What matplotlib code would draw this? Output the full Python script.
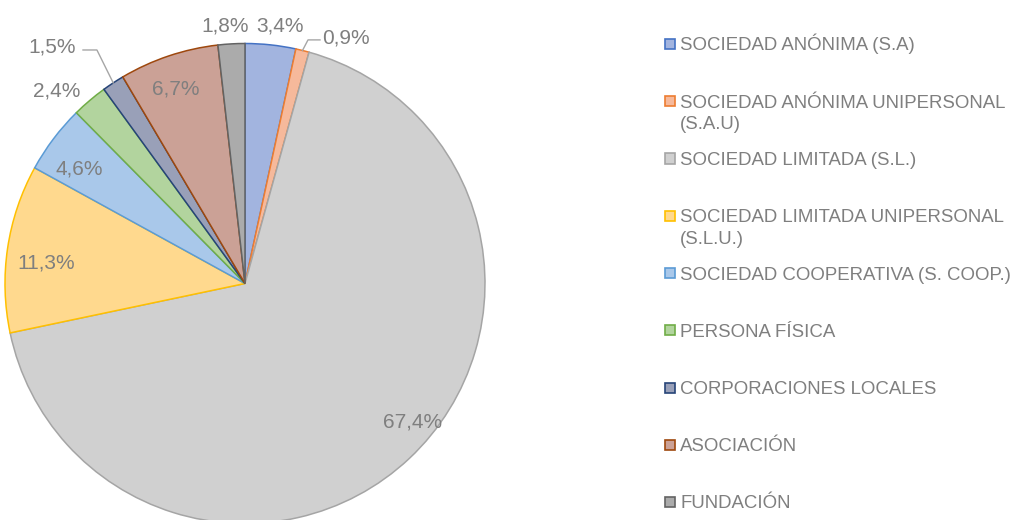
import numpy as np
import matplotlib
matplotlib.use("Agg")
import matplotlib.pyplot as plt
from matplotlib.patches import Rectangle

plt.rcParams["font.family"] = ["Liberation Sans", "DejaVu Sans"]

# data
categories = [
    "SOCIEDAD ANÓNIMA (S.A)",
    "SOCIEDAD ANÓNIMA UNIPERSONAL\n(S.A.U)",
    "SOCIEDAD LIMITADA (S.L.)",
    "SOCIEDAD LIMITADA UNIPERSONAL\n(S.L.U.)",
    "SOCIEDAD COOPERATIVA (S. COOP.)",
    "PERSONA FÍSICA",
    "CORPORACIONES LOCALES",
    "ASOCIACIÓN",
    "FUNDACIÓN",
]
shares = [3.4, 0.9, 67.4, 11.3, 4.6, 2.4, 1.5, 6.7, 1.8]
labels = ["3,4%", "0,9%", "67,4%", "11,3%", "4,6%", "2,4%", "1,5%", "6,7%", "1,8%"]

# style
fills = ["#A2B4DF", "#F6B99B", "#D0D0D0", "#FFD98E", "#A9C8EA",
         "#B2D49E", "#99A0B8", "#CBA196", "#ABABAB"]
edges = ["#4472C4", "#ED7D31", "#A5A5A5", "#FFC000", "#5B9BD5",
         "#70AD47", "#264478", "#9E480E", "#636363"]
txt_col = "#7F7F7F"

# label positions (pie data units), Excel moved them around
label_pos = [(0.146, 1.077), (0.421, 1.031), (0.70, -0.569), (-0.827, 0.090),
             (-0.692, 0.485), (-0.783, 0.810), (-0.804, 0.990), (-0.2875, 0.815),
             (-0.083, 1.077)]
# leader line start points for the outside labels
leaders = {6: [(-0.675, 0.973), (-0.617, 0.973)],
           1: [(0.3125, 1.015), (0.2625, 1.015)]}

W, H = 1024, 520
fig = plt.figure(figsize=(W / 100, H / 100), dpi=100)
fig.patch.set_facecolor("white")

cx, cy, r = 245, 520 - 283.5, 240
ax = fig.add_axes([(cx - r) / W, (cy - r) / H, 2 * r / W, 2 * r / H])
wedges, _ = ax.pie(shares, colors=fills, startangle=90, counterclock=False,
                   radius=1.0, wedgeprops=dict(linewidth=1.1))
for w, ec in zip(wedges, edges):
    w.set_edgecolor(ec)
ax.set_xlim(-1, 1)
ax.set_ylim(-1, 1)
ax.set_aspect("equal")
ax.axis("off")

fs = 15
for i, (lab, (x, y)) in enumerate(zip(labels, label_pos)):
    ax.text(x, y - 0.029, lab, ha="center", va="baseline", fontsize=fs,
            color=txt_col, clip_on=False)

for i, pts in leaders.items():
    w = wedges[i]
    mid = np.deg2rad((w.theta1 + w.theta2) / 2)
    xs = [p[0] for p in pts] + [np.cos(mid)]
    ys = [p[1] for p in pts] + [np.sin(mid)]
    ax.plot(xs, ys, color="#A6A6A6", lw=1.0, clip_on=False)

# legend
lx, ly0, step = 665, 44, 57.25
sq = 10
for i, (cat, fc, ec) in enumerate(zip(categories, fills, edges)):
    yc = ly0 + step * i
    fig.patches.append(Rectangle(((lx) / W, (H - yc - sq / 2) / H), sq / W, sq / H,
                                 facecolor=fc, edgecolor=ec, lw=1.2,
                                 transform=fig.transFigure, figure=fig))
    for j, line in enumerate(cat.split("\n")):
        yl = yc + 21.5 * j
        fig.text((lx + 15) / W, (H - yl - 6.5) / H, line, ha="left",
                 va="baseline", fontsize=13.4, color=txt_col)

fig.savefig("out.png", dpi=100)
